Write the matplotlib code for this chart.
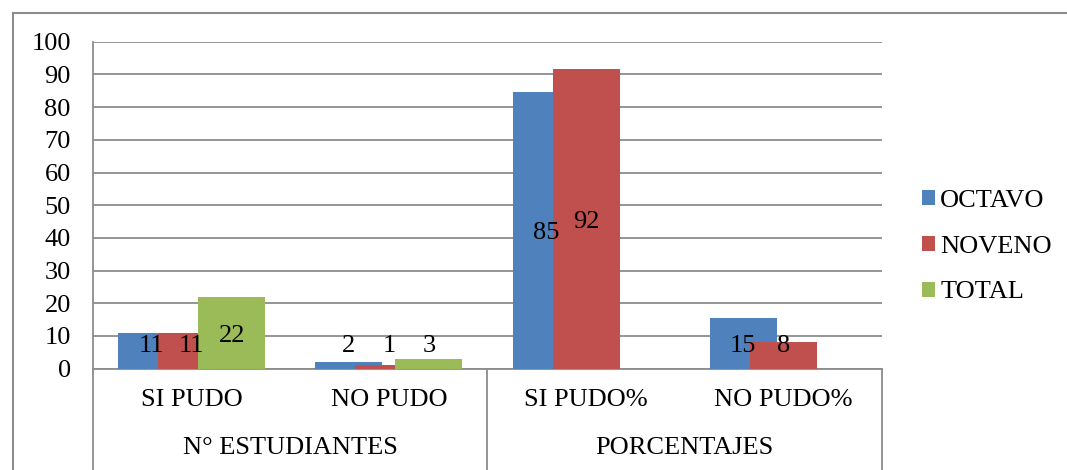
import numpy as np
import matplotlib
matplotlib.use("Agg")
import matplotlib.pyplot as plt
from matplotlib.lines import Line2D
import matplotlib.transforms as mtransforms

categories = ["SI PUDO", "NO PUDO", "SI PUDO%", "NO PUDO%"]
groups = ["N° ESTUDIANTES", "PORCENTAJES"]
series_names = ["OCTAVO", "NOVENO", "TOTAL"]
octavo = [11, 2, 84.6, 15.4]
noveno = [11, 1, 91.7, 8.3]
total = [22, 3, np.nan, np.nan]
yticks = list(range(0, 101, 10))

colors = ["#4F81BD", "#C0504D", "#9BBB59"]
grid_c = "#8C8C8C"

plt.rcParams['font.family'] = ['Liberation Serif', 'DejaVu Serif']
FS = 19

fig = plt.figure(figsize=(10.67, 4.70), dpi=100)
ax = fig.add_axes([93/1067, 1 - 368.7/470, (882-93)/1067, 327/470])

label_trans = mtransforms.offset_copy(ax.transData, fig=fig, x=0, y=-3, units='dots')

x = np.arange(len(categories))
width = 0.34
offsets = [-0.203, 0.0, 0.203]
all_series = [octavo, noveno, total]
for i, (vals, name) in enumerate(zip(all_series, series_names)):
    v = np.array(vals, dtype=float)
    ax.bar(x + offsets[i], v, width, color=colors[i], label=name,
           zorder=3 + i, edgecolor='none')
    for xi, vi in zip(x, v):
        if np.isnan(vi):
            continue
        ax.text(xi + offsets[i], max(vi / 2, 7.8), f"{vi:.0f}", ha='center',
                va='center', fontsize=FS, zorder=10, transform=label_trans)

ax.set_xlim(-0.5, len(categories) - 0.5)
ax.set_ylim(0, 100)
ax.set_yticks(yticks)
ax.set_yticklabels([str(t) for t in yticks], fontsize=FS)
ax.tick_params(axis='y', length=0, pad=16)
ax.set_xticks([])
ax.yaxis.grid(True, color=grid_c, linewidth=1.3, zorder=0)
ax.set_axisbelow(True)
for s in ['top', 'right']:
    ax.spines[s].set_visible(False)
ax.spines['left'].set_color(grid_c)
ax.spines['left'].set_linewidth(1.3)
ax.spines['bottom'].set_color(grid_c)
ax.spines['bottom'].set_linewidth(1.3)

trans = ax.get_xaxis_transform()
# category labels
for xi, c in zip(x, categories):
    ax.text(xi, -0.096, c, transform=trans, ha='center', va='center',
            fontsize=FS, clip_on=False)
# group labels
for gi, g in enumerate(groups):
    ax.text(2 * gi + 0.5, -0.241, g, transform=trans, ha='center',
            va='center', fontsize=FS, clip_on=False)
# separators
for xs in [-0.5, 1.5, 3.5]:
    ax.add_line(Line2D([xs, xs], [0, -0.32], transform=trans, color=grid_c,
                       linewidth=1.3, clip_on=False))
ax.spines['left'].set_bounds(0, 100)

# legend
handles, labels = ax.get_legend_handles_labels()
fig.legend(handles, labels, loc='center left', bbox_to_anchor=(0.864, 0.475),
           frameon=False, fontsize=FS, handlelength=0.5, handleheight=0.5,
           handletextpad=0.2, labelspacing=0.9, borderpad=0, borderaxespad=0)

# outer frame
fig.add_artist(Line2D([13/1067, 13/1067], [0, 1 - 13/470], transform=fig.transFigure,
                      color=grid_c, linewidth=1.5))
fig.add_artist(Line2D([13/1067, 1], [1 - 13/470, 1 - 13/470], transform=fig.transFigure,
                      color=grid_c, linewidth=1.5))

fig.savefig("out.png", dpi=100)
